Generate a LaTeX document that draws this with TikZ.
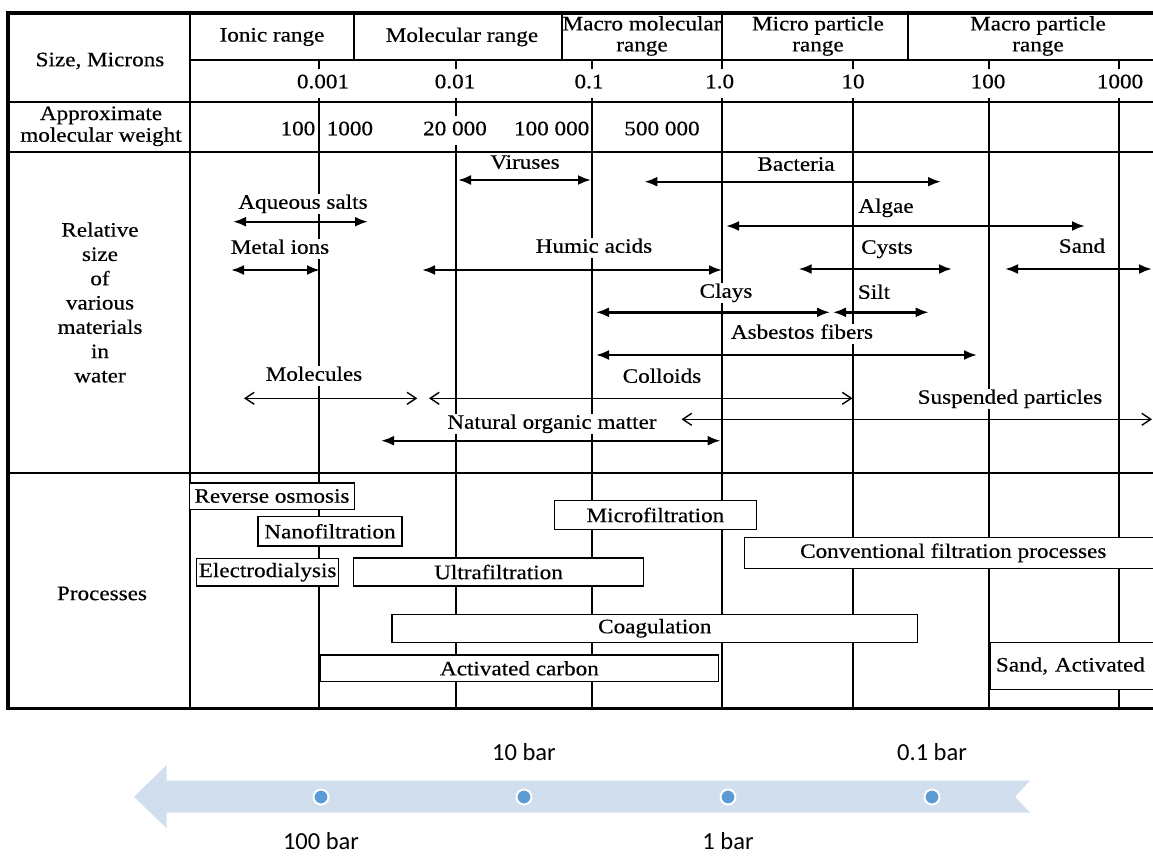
\documentclass[tikz,border=0pt]{standalone}
\usepackage{fontspec}
\setmainfont{Liberation Serif}[FakeStretch=1.13,FakeBold=0.4]
\newfontfamily\barfont{Carlito}
\usetikzlibrary{arrows.meta,calc}
\definecolor{barfill}{RGB}{208,222,238}
\definecolor{dotblue}{RGB}{91,155,213}

\begin{document}
\begin{tikzpicture}[x=1pt,y=-1pt,
txt/.style={font=\fontsize{20.5}{21}\selectfont,align=center,inner sep=1pt},
lbl/.style={txt,fill=white,text height=14pt,text depth=4.5pt},
num/.style={lbl,inner xsep=0.5pt,inner ysep=5pt},
grid/.style={line width=1.6pt},
frame/.style={line width=3.3pt},
bar/.style={<->,>={Latex[length=13pt,width=10pt]},line width=2.4pt},
barl/.style={<->,>={Straight Barb[length=9pt,width=12pt]},line width=1.4pt},
proc/.style={txt,rectangle,draw=black,fill=white,line width=1.3pt,inner sep=0pt},
dot/.style={circle,fill=dotblue,draw=white,line width=2pt,minimum size=15pt,inner sep=0pt},
press/.style={font=\barfont\fontsize{24.5}{24.5}\selectfont,inner sep=1pt}]
	\useasboundingbox (0,0) rectangle (1153,855);
	\begin{scope}
	\clip (0,0) rectangle (1153,720);
	%rows and columns
	\draw[grid] (190,60) -- (1170,60);
	\draw[grid] (8,101.7) -- (1170,101.7);
	\draw[grid] (8,151.7) -- (1170,151.7);
	\draw[grid] (8,472.7) -- (1170,472.7);
	\draw[grid] (190,13) -- (190,708);
	\foreach \x in {354,562,722,908} \draw[grid] (\x,13) -- (\x,60);
	\foreach \x in {319,456,592,722,853,989,1119} \draw[grid] (\x,60) -- (\x,708);
	\draw[frame] (1170,13) -- (8,13) -- (8,708.5) -- (1170,708.5);
	%header
	\node[txt] (size) at (100,61) {Size, Microns};
	\node[txt] (ionic) at (272,37) {Ionic range};
	\node[txt] (molr) at (462,37) {Molecular range};
	\node[txt] (macm) at (642,36) {Macro molecular\\range};
	\node[txt] (micp) at (818,36) {Micro particle\\range};
	\node[txt] (macp) at (1038,36) {Macro particle\\range};
	\node[num] (s1) at (323,83.5) {0.001};
	\node[num] (s2) at (455,83.5) {0.01};
	\node[num] (s3) at (589,83.5) {0.1};
	\node[num] (s4) at (719.6,83.5) {1.0};
	\node[num] (s5) at (853,83.5) {10};
	\node[num] (s6) at (988,83.5) {100};
	\node[num] (s7) at (1120,83.5) {1000};
	%molecular weight
	\node[txt,font=\fontsize{20.5}{21.7}\selectfont] (mw) at (101,126.3) {Approximate\\molecular weight};
	\node[num,anchor=east] (w1) at (316,130.5) {100};
	\node[num,anchor=west] (w2) at (326,130.5) {1000};
	\node[num] (w3) at (455,130.5) {20 000};
	\node[num,anchor=east] (w4) at (590,130.5) {100 000};
	\node[num] (w5) at (662,130.5) {500 000};
	%materials in water
	\node[txt,font=\fontsize{20.5}{24.3}\selectfont] (rel) at (100,302.5) {Relative\\size\\of\\various\\materials\\in\\water};
	\draw[bar] (458,180) -- (591,180);
	\draw[bar] (644.3,181.7) -- (941,181.7);
	\draw[bar] (233,221.7) -- (368,221.7);
	\draw[bar] (726,226) -- (1085,226);
	\draw[bar] (231,270) -- (320,270);
	\draw[bar] (422,270) -- (722,270);
	\draw[bar] (798.6,269) -- (952,269);
	\draw[bar] (1005,269) -- (1152,269);
	\draw[bar] (596,312.3) -- (830,312.3);
	\draw[bar] (833,312.3) -- (928.7,312.3);
	\draw[bar] (596,355) -- (977,355);
	\draw[barl] (244,398.3) -- (417.3,398.3);
	\draw[barl] (429,398.3) -- (852.5,398.3);
	\draw[barl] (681.5,419.3) -- (1152,419.3);
	\draw[bar] (381,440.7) -- (720.6,440.7);
	\node[lbl] (vir) at (525,164) {Viruses};
	\node[lbl] (bac) at (796,166) {Bacteria};
	\node[lbl] (aqs) at (303,204) {Aqueous salts};
	\node[lbl] (alg) at (886,208) {Algae};
	\node[lbl] (mei) at (280,249) {Metal ions};
	\node[lbl] (hum) at (594,248) {Humic acids};
	\node[lbl] (cys) at (887,249) {Cysts};
	\node[lbl] (snd) at (1082,248) {Sand};
	\node[lbl] (cla) at (726,293) {Clays};
	\node[lbl] (sil) at (874,294) {Silt};
	\node[lbl] (asb) at (802,334) {Asbestos fibers};
	\node[lbl] (mol) at (314,376) {Molecules};
	\node[lbl] (col) at (662,378) {Colloids};
	\node[lbl] (sus) at (1010,399) {Suspended particles};
	\node[lbl] (nom) at (552,424) {Natural organic matter};
	%processes
	\node[txt] (proc) at (102,593.5) {Processes};
	\node[proc,minimum width=165pt,minimum height=26.3pt] (ro) at (272,496) {Reverse osmosis};
	\node[proc,minimum width=144pt,minimum height=29.3pt] (nf) at (330,531.3) {Nanofiltration};
	\node[proc,minimum width=141.7pt,minimum height=27.7pt] (ed) at (267.6,572.2) {Electrodialysis};
	\node[proc,minimum width=290.3pt,minimum height=28pt] (uf) at (498.5,572) {Ultrafiltration};
	\node[proc,minimum width=202.4pt,minimum height=28.6pt] (mf) at (655.4,515) {Microfiltration};
	\node[proc,anchor=west,minimum width=418pt,minimum height=31pt] (cf) at (743.6,552.8) {Conventional filtration processes};
	\node[proc,minimum width=525.6pt,minimum height=28pt] (co) at (654.8,628.3) {Coagulation};
	\node[proc,minimum width=398.7pt,minimum height=26.7pt] (ac) at (519.4,668.3) {Activated carbon};
	\node[proc,anchor=west,minimum height=46.6pt,text width=190pt,align=left,inner xsep=6pt] (sa) at (989.3,666) {Sand, Activated};
	\end{scope}
	%pressure arrow
	\fill[barfill] (134,796.7) -- (166.7,765) -- (166.7,780.7) -- (1030,780.7) -- (1015,796.7) -- (1030,812.7) -- (166.7,812.7) -- (166.7,828.3) -- cycle;
	\node[dot] (p100) at (321,797) {};
	\node[dot] (p10) at (524,797) {};
	\node[dot] (p1) at (728,797) {};
	\node[dot] (p01) at (932,797) {};
	\node[press] at ([yshift=-44pt]p100) (l100) {100 bar};
	\node[press] at ([yshift=45pt]p10) (l10) {10 bar};
	\node[press] at ([yshift=-44pt]p1) (l1) {1 bar};
	\node[press] at ([yshift=45pt]p01) (l01) {0.1 bar};
\end{tikzpicture}
\end{document}
